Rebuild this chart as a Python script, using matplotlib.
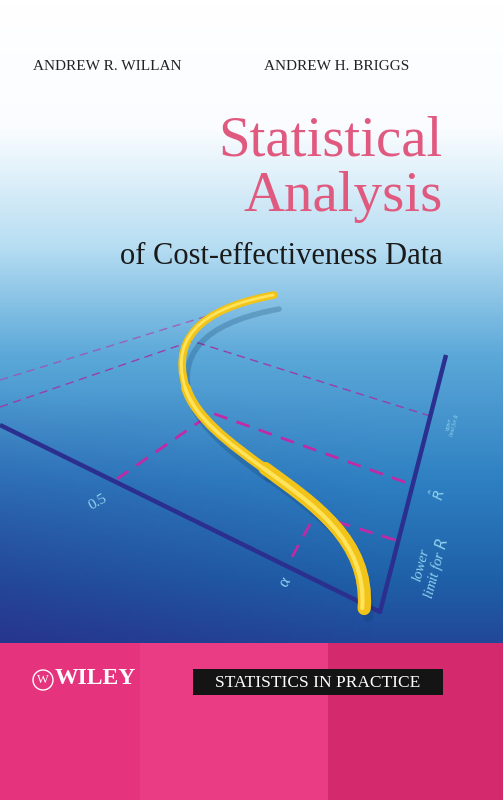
import numpy as np
import matplotlib
matplotlib.use("Agg")
import matplotlib.pyplot as plt
from matplotlib.colors import LinearSegmentedColormap
from matplotlib.path import Path
from matplotlib.patches import PathPatch, Circle

# data (pixel coordinates of the cover's drawing): Bezier control points of the S curve
curve_upper = [(274, 295), (215, 306), (168, 330), (186, 388)]
curve_mid = [(186, 388), (196, 418), (228, 442), (264, 468)]
curve_lower = [(264, 468), (312, 503), (368, 540), (363, 608)]
axis_x = [0, 380, 446]
axis_y = [425, 612, 355]
dash_thick1_x = [117, 212, 410]
dash_thick1_y = [479, 413, 484]
dash_thick2_x = [292, 315, 395]
dash_thick2_y = [557, 515, 540]
dash_thin1_x = [0, 220]
dash_thin1_y = [380, 312]
dash_thin2_x = [0, 192, 430]
dash_thin2_y = [407, 341, 416]

W, H = 503, 800
fig = plt.figure(figsize=(5.03, 8.0), dpi=100)
ax = fig.add_axes([0, 0, 1, 1])
ax.set_xlim(0, W); ax.set_ylim(H, 0); ax.axis("off")

# background gradient
yy, xx = np.mgrid[0:643, 0:W]
t = yy / 643.0
stops = [(0.0, (1, 1, 1)), (0.2, (0.98, 0.99, 1.0)), (0.38, (0.72, 0.87, 0.95)),
         (0.55, (0.36, 0.66, 0.85)), (0.75, (0.18, 0.50, 0.76)), (0.9, (0.12, 0.38, 0.66)),
         (1.0, (0.13, 0.28, 0.60))]
cm = LinearSegmentedColormap.from_list("bg", stops)
img = cm(t)[..., :3]
dark = np.clip((t - 0.6) / 0.4, 0, 1) * np.clip(1 - xx / 380.0, 0, 1) * 0.55
purple = np.array([0.17, 0.15, 0.52])
img = img * (1 - dark[..., None]) + purple * dark[..., None]
ax.imshow(img, extent=[0, W, 643, 0], aspect="auto", zorder=0)

# pink band
ax.add_patch(plt.Rectangle((0, 643), W, 157, color="#e6337e", zorder=1, lw=0))
ax.add_patch(plt.Rectangle((140, 643), 188, 157, color="#e93c84", zorder=1, lw=0))
ax.add_patch(plt.Rectangle((328, 643), 175, 157, color="#d5296d", zorder=1, lw=0))

# axes of the graphic
ax.plot(axis_x, axis_y, color="#2b2f8f", lw=3.2, zorder=3, solid_capstyle="butt")
mag = "#c02aa5"
ax.plot(dash_thin1_x, dash_thin1_y, color="#a34fb0", lw=1.0, ls=(0, (6, 4)), zorder=2, alpha=0.8)
ax.plot(dash_thin2_x, dash_thin2_y, color="#9b3ea8", lw=1.0, ls=(0, (6, 4)), zorder=2)
ax.plot(dash_thick1_x, dash_thick1_y, color=mag, lw=2.0, ls=(0, (5, 3.5)), zorder=2)
ax.plot(dash_thick2_x, dash_thick2_y, color=mag, lw=2.0, ls=(0, (5, 3.5)), zorder=2)

def bez(pts, dx=0, dy=0):
    return Path([(x + dx, y + dy) for x, y in pts], [Path.MOVETO] + [Path.CURVE4] * 3)

def stroke(pts, lw, color, z, dx=0, dy=0, alpha=1.0):
    ax.add_patch(PathPatch(bez(pts, dx, dy), fill=False, edgecolor=color, lw=lw, alpha=alpha,
                           capstyle="round", joinstyle="round", zorder=z))

# shadow
stroke(curve_upper, 4, "#0e3d6a", 3, 5, 14, 0.25)
stroke(curve_mid, 5.5, "#0e3d6a", 3, 5, 11, 0.25)
stroke(curve_lower, 7, "#0e3d6a", 3, 5, 9, 0.25)
# curve body
stroke(curve_upper, 5.5, "#f2c41a", 4)
stroke(curve_mid, 7, "#f2c41a", 4)
stroke(curve_lower, 7.5, "#f2c41a", 4)
stroke(curve_lower, 9.5, "#f2c41a", 4, 1.2, 0.5)
stroke(curve_upper, 2, "#ffe35a", 5, -0.8, 0)
stroke(curve_mid, 2.5, "#ffe35a", 5, -0.8, 0)
stroke(curve_lower, 3, "#ffe35a", 5, -0.8, 0)

lab = "#8fd3ee"
ax.text(98, 502, "0.5", color=lab, fontsize=11, rotation=30, ha="center", va="center",
        family="Liberation Serif", zorder=5)
ax.text(285, 582, "α", color=lab, fontsize=12, rotation=60, ha="center", va="center",
        family="Liberation Serif", zorder=5)
ax.text(438, 495, r"$\hat{R}$", color=lab, fontsize=10, rotation=75, ha="center", va="center", zorder=5)
ax.text(430, 567, "lower\nlimit for $R$", color=lab, fontsize=10.5, rotation=75, ha="center",
        va="center", family="Liberation Serif", style="italic", zorder=5, linespacing=1.0)
ax.text(452, 425, "upper\nlimit for R", color=lab, fontsize=4, rotation=75, ha="center",
        va="center", family="Liberation Serif", style="italic", zorder=5, linespacing=1.0)

# titles
ax.text(33, 66, "ANDREW R. WILLAN", fontsize=11, family="Liberation Serif", color="#222222",
        va="center", ha="left", zorder=6)
ax.text(264, 66, "ANDREW H. BRIGGS", fontsize=11, family="Liberation Serif", color="#222222",
        va="center", ha="left", zorder=6)
pink = "#e05a80"
ax.text(443, 142, "Statistical", fontsize=41, family="Liberation Serif", color=pink,
        ha="right", va="center", zorder=6)
ax.text(443, 197, "Analysis", fontsize=41, family="Liberation Serif", color=pink,
        ha="right", va="center", zorder=6)
ax.text(443, 257, "of Cost-effectiveness Data", fontsize=22, family="Liberation Serif",
        color="#1a1a1a", ha="right", va="center", zorder=6)

# bottom band text
ax.add_patch(Circle((43, 680), 10, fill=False, edgecolor="white", lw=1.0, zorder=6))
ax.text(43, 680, "W", fontsize=9, color="white", ha="center", va="center",
        family="Liberation Serif", zorder=6)
ax.text(55, 679, "WILEY", fontsize=17, color="white", ha="left", va="center",
        family="Liberation Serif", weight="bold", zorder=6)
ax.add_patch(plt.Rectangle((193, 669), 250, 26, color="#141414", zorder=6, lw=0))
ax.text(318, 683, "STATISTICS IN PRACTICE", fontsize=12.5, color="white", ha="center",
        va="center", family="Liberation Serif", zorder=7)

fig.savefig("out.png", dpi=100)
